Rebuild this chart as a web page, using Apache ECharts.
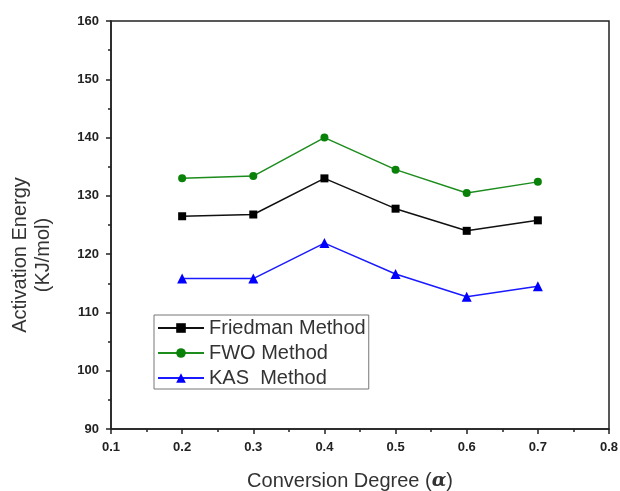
<!DOCTYPE html>
<html><head><meta charset="utf-8">
<script src="https://cdn.jsdelivr.net/npm/echarts@6/dist/echarts.min.js"></script>
<style>html,body{margin:0;padding:0;background:#fff}#c{width:620px;height:491px}</style>
</head><body><div id="c"></div>
<script>
var conversion = [0.2, 0.3, 0.4, 0.5, 0.6, 0.7];
var friedman = [126.5, 126.8, 133.0, 127.8, 124.0, 125.8];
var fwo = [133.0, 133.4, 140.0, 134.5, 130.5, 132.4];
var kas = [115.8, 115.8, 121.9, 116.6, 112.7, 114.5];
var seriesNames = ['Friedman Method', 'FWO Method', 'KAS  Method'];

function pairs(v){ return conversion.map(function(x,i){return [x, v[i]];}); }
var chart = echarts.init(document.getElementById('c'));
var font = 'Liberation Sans, Arial, sans-serif';
chart.setOption({
  animation: false,
  grid: {left: 111, right: 11, top: 21, bottom: 62, outerBoundsMode: 'none', containLabel: false,
    show: true, borderColor: '#222', borderWidth: 1.5, backgroundColor: 'transparent'},
  legend: {
    orient: 'vertical', left: 154, top: 315, itemWidth: 46, itemHeight: 12, itemGap: 5,
    padding: [3, 3, 1, 3], borderColor: '#777', borderWidth: 1,
    textStyle: {fontFamily: font, fontSize: 20, color: '#333'},
    data: seriesNames
  },
  xAxis: {
    type: 'value', min: 0.1, max: 0.8, interval: 0.1,
    name: 'Conversion Degree ({a|α})', nameLocation: 'middle', nameGap: 42,
    nameTextStyle: {fontFamily: font, fontSize: 20, color: '#333', padding: [0, 20, 0, 0],
      rich: {a: {fontStyle: 'italic', fontWeight: 'bold', fontSize: 19, fontFamily: 'DejaVu Serif', color: '#333'}}},
    axisLine: {lineStyle: {color: '#222', width: 1.5}},
    axisTick: {show: true, length: 5, lineStyle: {color: '#222', width: 1.5}},
    minorTick: {show: true, splitNumber: 2, length: 3, lineStyle: {color: '#222', width: 1.5}},
    splitLine: {show: false},
    axisLabel: {fontFamily: font, fontSize: 13, fontWeight: 'bold', color: '#222', margin: 12, formatter: function(v){return v.toFixed(1);}}
  },
  yAxis: {
    type: 'value', min: 90, max: 160, interval: 10,
    name: 'Activation Energy\n(KJ/mol)', nameLocation: 'middle', nameGap: 56, nameRotate: 90,
    nameTextStyle: {fontFamily: font, fontSize: 20, color: '#333', lineHeight: 23, padding: [0, 60, 0, 0]},
    axisLine: {show: true, lineStyle: {color: '#222', width: 1.5}},
    axisTick: {show: true, length: 5, lineStyle: {color: '#222', width: 1.5}},
    minorTick: {show: true, splitNumber: 2, length: 3, lineStyle: {color: '#222', width: 1.5}},
    splitLine: {show: false},
    axisLabel: {fontFamily: font, fontSize: 13, fontWeight: 'bold', color: '#222', margin: 12}
  },
  series: [
    {name: seriesNames[0], type: 'line', data: pairs(friedman), symbol: 'rect', symbolSize: 8,
     lineStyle: {color: '#111', width: 1.5}, itemStyle: {color: '#000'}},
    {name: seriesNames[1], type: 'line', data: pairs(fwo), symbol: 'circle', symbolSize: 8,
     lineStyle: {color: '#1c8c1c', width: 1.5}, itemStyle: {color: '#0a820a'}},
    {name: seriesNames[2], type: 'line', data: pairs(kas), symbol: 'triangle', symbolSize: 10,
     lineStyle: {color: '#1a1aff', width: 1.5}, itemStyle: {color: '#0000ff'}}
  ]
});
</script></body></html>
